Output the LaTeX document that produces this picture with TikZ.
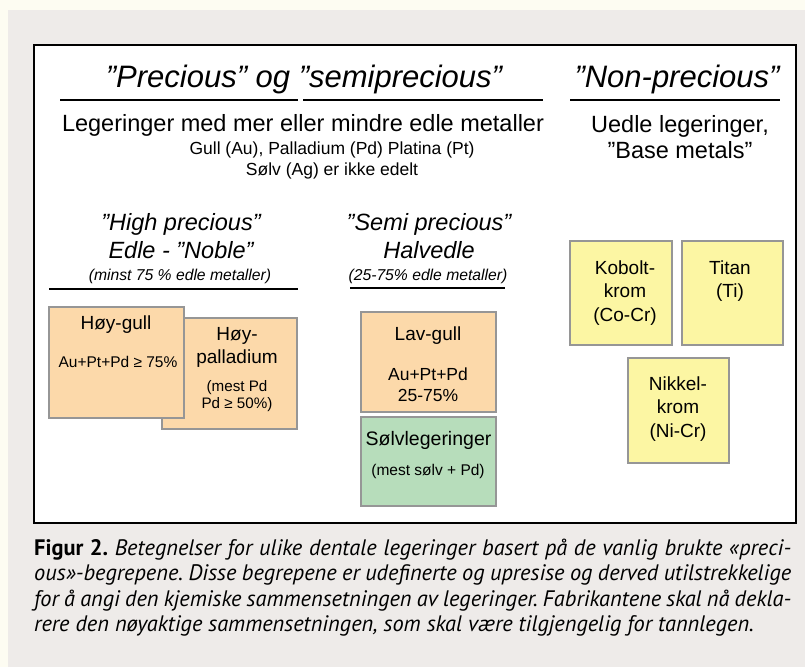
\documentclass[tikz,border=0pt]{standalone}
\usepackage{fontspec}
\setmainfont{Liberation Sans}
\newfontfamily\capfont{PT Sans}
\frenchspacing
\definecolor{cream}{RGB}{253,252,242}
\definecolor{panel}{RGB}{238,235,233}
\definecolor{boxgrey}{RGB}{150,150,150}
\definecolor{goldfill}{RGB}{252,217,170}
\definecolor{silverfill}{RGB}{183,221,187}
\definecolor{basefill}{RGB}{252,246,163}
\begin{document}
\begin{tikzpicture}[x=1pt, y=-1pt,
    every node/.style={inner sep=0pt, anchor=base},
    alloy/.style={draw=boxgrey, line width=1.6pt, anchor=center},
    head/.style={font=\fontsize{31}{36}\selectfont\itshape},
    lead/.style={align=center, font=\fontsize{23.5}{26}\selectfont},
    group/.style={align=center, font=\fontsize{23.5}{27.5}\selectfont\itshape},
    groupnote/.style={font=\fontsize{15.7}{18}\selectfont\itshape},
    boxtitle/.style={align=center, font=\fontsize{19}{23.5}\selectfont},
    boxnote/.style={align=center, font=\fontsize{15.2}{17}\selectfont},
    caption/.style={anchor=base west, font=\capfont\fontsize{22.4}{25}\selectfont\itshape}]
    \useasboundingbox (0,0) rectangle (805,667);

    % Page and frame
    \fill[cream] (0,0) rectangle (805,667);
    \fill[panel] (8,10) rectangle (805,667);
    \draw[fill=white, line width=1.5pt] (34,45) rectangle (796,523);

    % Headings (multi-line nodes sit on their last line)
    \node[head] (precious) at (304,87) {”Precious” og ”semiprecious”};
    \node[head] (nonprecious) at (677,87) {”Non-precious”};
    \draw[line width=1.8pt] (60,100) -- (298,100);
    \draw[line width=1.8pt] (303,100) -- (543,100);
    \draw[line width=2.2pt] (570,100) -- (780,100);

    \node[lead] (noble) at (303,131.5) {Legeringer med mer eller mindre edle metaller};
    \node[align=center, font=\fontsize{17.5}{21.5}\selectfont] (metals) at (332,175.5)
        {Gull (Au), Palladium (Pd) Platina (Pt)\\Sølv (Ag) er ikke edelt};
    \node[lead] (base) at (680,158) {Uedle legeringer,\\”Base metals”};

    % High precious group
    \node[group] (high) at (181,258) {”High precious”\\Edle - ”Noble”};
    \node[groupnote] (highnote) at (180,280) {(minst 75 \% edle metaller)};
    \draw[line width=1.5pt] (49,289) -- (298,289);

    \node[alloy, fill=goldfill, minimum width=135pt, minimum height=111pt] (hoypd) at (229.5,373.5) {};
    \node[alloy, fill=goldfill, minimum width=135pt, minimum height=111pt] (hoygull) at (116.5,362.5) {};
    \node[boxtitle] (hoygull-t) at (116,329) {Høy-gull};
    \node[boxnote, font=\fontsize{15.5}{17}\selectfont] (hoygull-n) at (118,367) {Au+Pt+Pd ≥ 75\%};
    \node[boxtitle, font=\fontsize{19}{23}\selectfont] (hoypd-t) at (237,363) {Høy-\\palladium};
    \node[boxnote] (hoypd-n) at (237,408) {(mest Pd\\Pd ≥ 50\%)};

    % Semi precious group
    \node[group] (semi) at (429,258) {”Semi precious”\\Halvedle};
    \node[groupnote] (seminote) at (428,280) {(25-75\% edle metaller)};
    \draw[line width=1.5pt] (350,288) -- (505,288);

    \node[alloy, fill=goldfill, minimum width=135pt, minimum height=100pt] (lavgull) at (428.5,362) {};
    \node[boxtitle] (lavgull-t) at (428,340) {Lav-gull};
    \node[boxnote, font=\fontsize{17.5}{21}\selectfont] (lavgull-n) at (428,401) {Au+Pt+Pd\\25-75\%};
    \node[alloy, fill=silverfill, minimum width=135pt, minimum height=89pt] (solv) at (428.5,461.5) {};
    \node[boxtitle, font=\fontsize{19.5}{23}\selectfont] (solv-t) at (428.5,445) {Sølvlegeringer};
    \node[boxnote, font=\fontsize{15.5}{17}\selectfont] (solv-n) at (428,475) {(mest sølv + Pd)};

    % Non-precious group
    \node[alloy, fill=basefill, minimum width=102pt, minimum height=104pt] (cocr) at (621,293) {};
    \node[boxtitle] (cocr-t) at (625,321) {Kobolt-\\krom\\(Co-Cr)};
    \node[alloy, fill=basefill, minimum width=101pt, minimum height=104pt] (titan) at (732.5,293) {};
    \node[boxtitle] (titan-t) at (730,297.5) {Titan\\(Ti)};
    \node[alloy, fill=basefill, minimum width=101pt, minimum height=105pt] (nicr) at (678.5,410.5) {};
    \node[boxtitle] (nicr-t) at (678,437) {Nikkel-\\krom\\(Ni-Cr)};

    % Caption
    \node[caption] (cap1) at (34,555) {\makebox[757pt][s]{{\bfseries\upshape Figur 2.} Betegnelser for ulike dentale legeringer basert på de vanlig brukte «preci-}};
    \node[caption] (cap2) at (34,580.5) {\makebox[757pt][s]{ous»-begrepene. Disse begrepene er udefinerte og upresise og derved utilstrekkelige}};
    \node[caption] (cap3) at (34,606) {\makebox[757pt][s]{for å angi den kjemiske sammensetningen av legeringer. Fabrikantene skal nå dekla-}};
    \node[caption] (cap4) at (34,631) {rere den nøyaktige sammensetningen, som skal være tilgjengelig for tannlegen.};
  \end{tikzpicture}
\end{document}
